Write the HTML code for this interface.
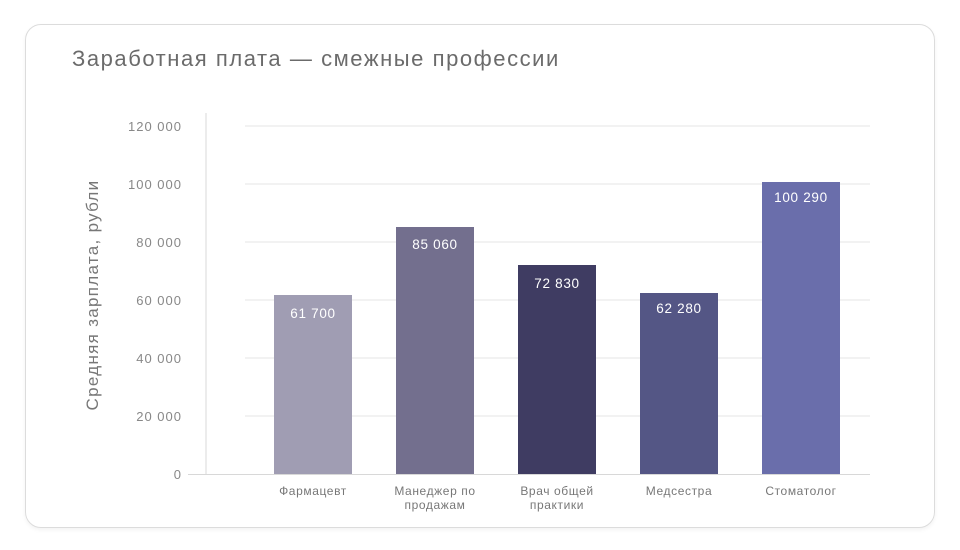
<!DOCTYPE html>
<html><head><meta charset="utf-8"><style>
body{margin:0;width:960px;height:550px;background:#fff;font-family:"Liberation Sans",sans-serif;overflow:hidden}
.card{position:absolute;left:25px;top:24px;width:908px;height:502px;border:1.5px solid #dcdcdc;border-radius:16px;box-shadow:0 2px 4px rgba(0,0,0,.05)}
</style></head><body>
<div class="card"></div>
<svg width="960" height="550" style="position:absolute;left:0;top:0" font-family="Liberation Sans, sans-serif">
<text x="72" y="66" font-size="22" fill="#6b6b6b" letter-spacing="1.55">Заработная плата — смежные профессии</text>
<g stroke="#e6e6e6" stroke-width="1">
<line x1="245" x2="870" y1="126" y2="126"/><line x1="245" x2="870" y1="184" y2="184"/>
<line x1="245" x2="870" y1="242" y2="242"/><line x1="245" x2="870" y1="300" y2="300"/>
<line x1="245" x2="870" y1="358" y2="358"/><line x1="245" x2="870" y1="416" y2="416"/>
</g>
<line x1="188" x2="870" y1="474.5" y2="474.5" stroke="#d8d8d8"/>
<line x1="206" x2="206" y1="113" y2="474" stroke="#d8d8d8"/>
<g font-size="13" fill="#888" text-anchor="end" letter-spacing="1">
<text x="182" y="131">120 000</text><text x="182" y="189">100 000</text><text x="182" y="247">80 000</text>
<text x="182" y="305">60 000</text><text x="182" y="363">40 000</text><text x="182" y="421">20 000</text><text x="182" y="479">0</text>
</g>
<text transform="translate(98,295) rotate(-90)" font-size="17" fill="#777" text-anchor="middle" letter-spacing="1.3">Средняя зарплата, рубли</text>
<rect x="274" y="295" width="78" height="179" fill="#a09db3"/>
<rect x="396" y="227" width="78" height="247" fill="#736f8e"/>
<rect x="518" y="265" width="78" height="209" fill="#3f3c62"/>
<rect x="640" y="293" width="78" height="181" fill="#545685"/>
<rect x="762" y="182" width="78" height="292" fill="#6a6eab"/>
<g font-size="13.5" fill="#fff" text-anchor="middle" letter-spacing="0.7">
<text x="313" y="318">61 700</text><text x="435" y="249">85 060</text><text x="557" y="288">72 830</text>
<text x="679" y="313">62 280</text><text x="801" y="202">100 290</text>
</g>
<g font-size="12" fill="#777" text-anchor="middle" letter-spacing="0.6">
<text x="313" y="495">Фармацевт</text>
<text x="435" y="495">Манеджер по</text><text x="435" y="509">продажам</text>
<text x="557" y="495">Врач общей</text><text x="557" y="509">практики</text>
<text x="679" y="495">Медсестра</text>
<text x="801" y="495">Стоматолог</text>
</g>
</svg>
</body></html>
